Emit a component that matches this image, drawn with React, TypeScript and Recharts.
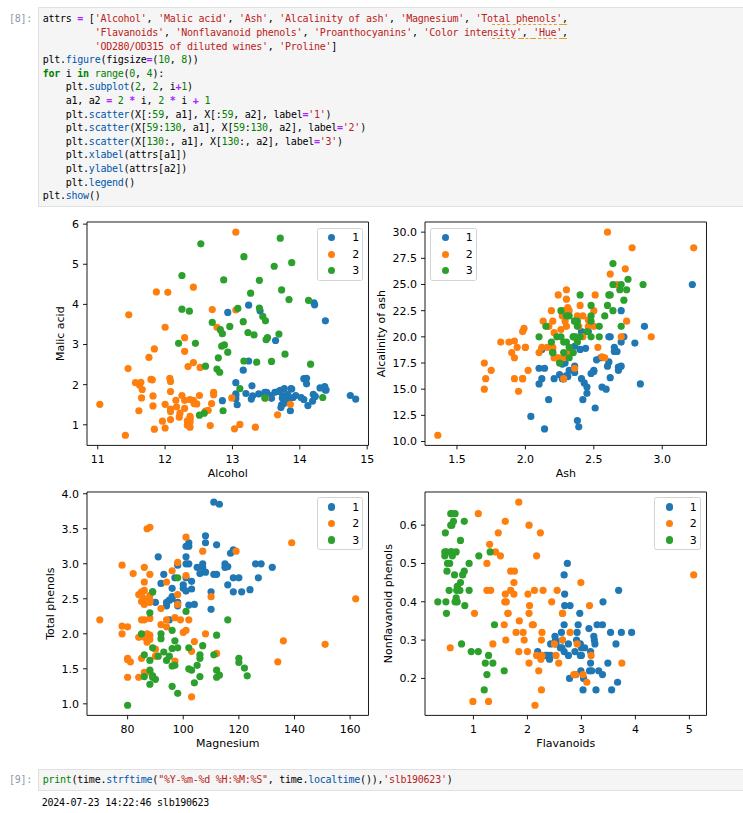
import React from 'react';
import { ScatterChart, Scatter, XAxis, YAxis, ReferenceArea } from 'recharts';

// wine data, 178 rows: rows 0..58 class 1, 59..129 class 2, 130..177 class 3
const alcohol = [
  14.23, 13.2, 13.16, 14.37, 13.24, 14.2, 14.39, 14.06, 14.83, 13.86, 14.1, 14.12, 13.75, 14.75, 14.38, 13.63, 14.3, 13.83, 14.19, 13.64,
  14.06, 12.93, 13.71, 12.85, 13.5, 13.05, 13.39, 13.3, 13.87, 14.02, 13.73, 13.58, 13.68, 13.76, 13.51, 13.48, 13.28, 13.05, 13.07, 14.22,
  13.56, 13.41, 13.88, 13.24, 13.05, 14.21, 14.38, 13.9, 14.1, 13.94, 13.05, 13.83, 13.82, 13.77, 13.74, 13.56, 14.22, 13.29, 13.72,
  12.37, 12.33, 12.64, 13.67, 12.37, 12.17, 12.37, 13.11, 12.37, 13.34, 12.21, 12.29, 13.86, 13.49, 12.99, 11.96, 11.66, 13.03, 11.84, 12.33,
  12.7, 12, 12.72, 12.08, 13.05, 11.84, 12.67, 12.16, 11.65, 11.64, 12.08, 12.08, 12, 12.69, 12.29, 11.62, 12.47, 11.81, 12.29, 12.37,
  12.29, 12.08, 12.6, 12.34, 11.82, 12.51, 12.42, 12.25, 12.72, 12.22, 11.61, 11.46, 12.52, 11.76, 11.41, 12.08, 11.03, 11.82, 12.42, 12.77,
  12, 11.45, 11.56, 12.42, 13.05, 11.87, 12.07, 12.43, 11.79, 12.37, 12.04,
  12.86, 12.88, 12.81, 12.7, 12.51, 12.6, 12.25, 12.53, 13.49, 12.84, 12.93, 13.36, 13.52, 13.62, 12.25, 13.16, 13.88, 12.87, 13.32, 13.08,
  13.5, 12.79, 13.11, 13.23, 12.58, 13.17, 13.84, 12.45, 14.34, 13.48, 12.36, 13.69, 12.85, 12.96, 13.78, 13.73, 13.45, 12.82, 13.58, 13.4,
  12.2, 12.77, 14.16, 13.71, 13.4, 13.27, 13.17, 14.13,
];
const malicAcid = [
  1.71, 1.78, 2.36, 1.95, 2.59, 1.76, 1.87, 2.15, 1.64, 1.35, 2.16, 1.48, 1.73, 1.73, 1.87, 1.81, 1.92, 1.57, 1.59, 3.1,
  1.63, 3.8, 1.86, 1.6, 1.81, 2.05, 1.77, 1.72, 1.9, 1.68, 1.5, 1.66, 1.83, 1.53, 1.8, 1.81, 1.64, 1.65, 1.5, 3.99,
  1.71, 3.84, 1.89, 3.98, 1.77, 4.04, 3.59, 1.68, 2.02, 1.73, 1.73, 1.65, 1.75, 1.9, 1.67, 1.73, 1.7, 1.97, 1.43,
  0.94, 1.1, 1.36, 1.25, 1.13, 1.45, 1.21, 1.01, 1.17, 0.94, 1.19, 1.61, 1.51, 1.66, 1.67, 1.09, 1.88, 0.9, 2.89, 0.99,
  3.87, 0.92, 1.81, 1.13, 3.86, 0.89, 0.98, 1.61, 1.67, 2.06, 1.33, 1.83, 1.51, 1.53, 2.83, 1.99, 1.52, 2.12, 1.41, 1.07,
  3.17, 2.08, 1.34, 2.45, 1.72, 1.73, 2.55, 1.73, 1.75, 1.29, 1.35, 3.74, 2.43, 2.68, 0.74, 1.39, 1.51, 1.47, 1.61, 3.43,
  3.43, 2.4, 2.05, 4.43, 5.8, 4.31, 2.16, 1.53, 2.13, 1.63, 4.3,
  1.35, 2.99, 2.31, 3.55, 1.24, 2.46, 4.72, 5.51, 3.59, 2.96, 2.81, 2.56, 3.17, 4.95, 3.88, 3.57, 5.04, 4.61, 3.24, 3.9,
  3.12, 2.67, 1.9, 3.3, 1.29, 5.19, 4.12, 3.03, 1.68, 1.67, 3.83, 3.26, 3.27, 3.45, 2.76, 4.36, 3.7, 3.37, 2.58, 4.6,
  3.03, 2.39, 2.51, 5.65, 3.91, 4.28, 2.59, 4.1,
];
const ash = [
  2.43, 2.14, 2.67, 2.5, 2.87, 2.45, 2.45, 2.61, 2.17, 2.27, 2.3, 2.32, 2.41, 2.39, 2.38, 2.7, 2.72, 2.62, 2.48, 2.56,
  2.28, 2.65, 2.36, 2.52, 2.61, 3.22, 2.62, 2.14, 2.8, 2.21, 2.7, 2.36, 2.36, 2.7, 2.65, 2.41, 2.84, 2.55, 2.1, 2.51,
  2.31, 2.12, 2.59, 2.29, 2.1, 2.44, 2.28, 2.12, 2.4, 2.27, 2.04, 2.6, 2.42, 2.68, 2.25, 2.46, 2.3, 2.68, 2.5,
  1.36, 2.28, 2.02, 1.92, 2.16, 2.53, 2.56, 1.7, 1.92, 2.36, 1.75, 2.21, 2.67, 2.24, 2.6, 2.3, 1.92, 1.71, 2.23, 1.95,
  2.4, 2, 2.2, 2.51, 2.32, 2.58, 2.24, 2.31, 2.62, 2.46, 2.3, 2.32, 2.42, 2.26, 2.22, 2.28, 2.2, 2.74, 1.98, 2.1,
  2.21, 1.7, 1.9, 2.46, 1.88, 1.98, 2.27, 2.12, 2.28, 1.94, 2.7, 1.82, 2.17, 2.92, 2.5, 2.5, 2.2, 1.99, 2.19, 1.98,
  2, 2.42, 3.23, 2.73, 2.13, 2.39, 2.17, 2.29, 2.78, 2.3, 2.38,
  2.32, 2.4, 2.4, 2.36, 2.25, 2.2, 2.54, 2.64, 2.19, 2.61, 2.7, 2.35, 2.72, 2.35, 2.2, 2.15, 2.23, 2.48, 2.38, 2.36,
  2.62, 2.48, 2.75, 2.28, 2.1, 2.32, 2.38, 2.64, 2.7, 2.64, 2.38, 2.54, 2.58, 2.35, 2.3, 2.26, 2.6, 2.3, 2.69, 2.86,
  2.32, 2.28, 2.48, 2.45, 2.48, 2.26, 2.37, 2.74,
];
const alcalinity = [
  15.6, 11.2, 18.6, 16.8, 21, 15.2, 14.6, 17.6, 14, 16, 18, 16.8, 16, 11.4, 12, 17.2, 20, 20, 16.5, 15.2,
  16, 18.6, 16.6, 17.8, 20, 25, 16.1, 17, 19.4, 16, 22.5, 19.1, 17.2, 19.5, 19, 20.5, 15.5, 18, 15.5, 13.2,
  16.2, 18.8, 15, 17.5, 17, 18.9, 16, 16, 18.8, 17.4, 12.4, 17.2, 14, 17.1, 16.4, 20.5, 16.3, 16.8, 16.7,
  10.6, 16, 16.8, 18, 19, 19, 18.1, 15, 19.6, 17, 16.8, 20.4, 25, 24, 30, 21, 16, 16, 18, 14.8,
  23, 19, 18.8, 24, 22.5, 18, 18, 22.8, 26, 21.6, 23.6, 18.5, 22, 20.7, 18, 18, 19, 21.5, 16, 18.5,
  18, 17.5, 18.5, 21, 19.5, 20.5, 22, 19, 22.5, 19, 20, 19.5, 21, 20, 21, 22.5, 21.5, 20.8, 22.5, 16,
  19, 20, 28.5, 26.5, 21.5, 21, 21, 21.5, 28.5, 24.5, 22,
  18, 20, 24, 21.5, 17.5, 18.5, 21, 25, 19.5, 24, 21, 20, 23.5, 20, 18.5, 21, 20, 21.5, 21.5, 21.5,
  24, 22, 25.5, 18.5, 20, 22, 19.5, 27, 25, 22.5, 21, 20, 22, 18.5, 22, 22.5, 23, 19.5, 24.5, 25,
  19, 19.5, 20, 20.5, 23, 20, 20, 24.5,
];
const magnesium = [
  127, 100, 101, 113, 118, 112, 96, 121, 97, 98, 105, 95, 89, 91, 102, 112, 120, 115, 108, 116,
  126, 102, 101, 95, 96, 124, 93, 94, 107, 96, 101, 106, 104, 132, 110, 100, 110, 98, 98, 128,
  117, 90, 101, 103, 107, 111, 102, 101, 103, 108, 92, 94, 111, 115, 118, 116, 118, 102, 108,
  88, 101, 100, 94, 87, 104, 98, 78, 78, 110, 151, 103, 86, 87, 139, 101, 97, 86, 112, 136,
  101, 86, 86, 78, 85, 94, 99, 90, 88, 84, 70, 81, 86, 80, 88, 98, 162, 134, 85, 88,
  88, 97, 88, 98, 86, 85, 90, 80, 84, 92, 94, 107, 88, 103, 88, 84, 85, 86, 108, 80,
  87, 96, 119, 102, 86, 82, 85, 86, 92, 88, 80,
  122, 104, 98, 106, 85, 94, 89, 96, 88, 101, 96, 89, 97, 92, 112, 102, 80, 86, 92, 113,
  123, 112, 116, 98, 103, 93, 89, 97, 98, 89, 88, 107, 106, 106, 90, 88, 111, 88, 105, 112,
  96, 86, 91, 95, 102, 120, 120, 96,
];
const totalPhenols = [
  2.8, 2.65, 2.8, 3.85, 2.8, 3.27, 2.5, 2.6, 2.8, 2.98, 2.95, 2.2, 2.6, 3.1, 3.3, 2.85, 2.8, 2.95, 3.3, 2.7,
  3, 2.41, 2.61, 2.48, 2.53, 2.63, 2.85, 2.4, 2.95, 2.65, 3, 2.86, 2.42, 2.95, 2.35, 2.7, 2.6, 2.45, 2.4, 3,
  3.15, 2.45, 3.25, 2.64, 3, 2.85, 3.25, 3.1, 2.75, 2.88, 2.72, 2.45, 3.88, 3, 2.6, 2.96, 3.2, 3, 3.4,
  1.98, 2.05, 2.02, 2.1, 3.5, 1.89, 2.42, 2.98, 2.11, 2.53, 1.85, 1.1, 2.95, 1.88, 3.3, 3.38, 1.61, 1.95, 1.72, 1.9,
  2.83, 2.42, 2.2, 2, 1.65, 2.2, 2.2, 1.78, 1.92, 1.95, 2.2, 1.6, 1.45, 1.38, 2.45, 3.02, 2.5, 1.6, 2.55, 3.52,
  2.85, 2.23, 1.45, 2.56, 2.5, 2.2, 1.68, 1.65, 1.38, 2.36, 2.74, 3.18, 2.55, 1.75, 2.48, 2.56, 2.46, 1.98, 2, 1.63,
  2, 2.9, 3.18, 2.2, 2.62, 2.86, 2.6, 2.74, 2.13, 2.22, 2.1,
  1.51, 1.3, 1.15, 1.7, 2, 1.62, 1.38, 1.79, 1.62, 2.32, 1.54, 1.4, 1.55, 2, 1.38, 1.5, 0.98, 1.7, 1.93, 1.41,
  1.4, 1.48, 2.2, 1.8, 1.48, 1.74, 1.8, 1.9, 2.8, 2.6, 2.3, 1.83, 1.65, 1.39, 1.35, 1.28, 1.7, 1.48, 1.55, 1.98,
  1.25, 1.39, 1.68, 1.68, 1.8, 1.59, 1.65, 2.05,
];
const flavanoids = [
  3.06, 2.76, 3.24, 3.49, 2.69, 3.39, 2.52, 2.51, 2.98, 3.15, 3.32, 2.43, 2.76, 3.69, 3.64, 2.91, 3.14, 3.4, 3.93, 3.03,
  3.17, 2.41, 2.88, 2.37, 2.61, 2.68, 2.94, 2.19, 2.97, 2.33, 3.25, 3.19, 2.69, 2.74, 2.53, 2.98, 2.68, 2.43, 2.64, 3.04,
  3.29, 2.68, 3.56, 2.63, 3, 2.65, 3.17, 3.39, 2.92, 3.54, 3.27, 2.99, 3.74, 2.79, 2.9, 2.78, 3, 3.23, 3.67,
  0.57, 1.09, 1.41, 1.79, 3.1, 1.75, 2.65, 3.18, 2, 1.3, 1.28, 1.02, 2.86, 1.84, 2.89, 2.14, 1.57, 2.03, 1.32, 1.85,
  2.55, 2.26, 2.53, 1.58, 1.59, 2.21, 1.94, 1.69, 1.61, 1.69, 1.59, 1.5, 1.25, 1.46, 2.25, 2.26, 2.27, 0.99, 2.5, 3.75,
  2.99, 2.17, 1.36, 2.11, 1.64, 1.92, 1.84, 2.03, 1.76, 2.04, 2.92, 2.58, 2.27, 2.03, 2.01, 2.29, 2.17, 1.6, 2.09, 1.25,
  1.64, 2.79, 5.08, 2.13, 2.65, 3.03, 2.65, 3.15, 2.24, 2.45, 1.75,
  1.25, 1.22, 1.09, 1.2, 0.58, 0.66, 0.47, 0.6, 0.48, 0.6, 0.5, 0.5, 0.52, 0.8, 0.78, 0.55, 0.34, 0.65, 0.76, 1.39,
  1.57, 1.36, 1.28, 0.83, 0.58, 0.63, 0.83, 0.58, 1.31, 1.1, 0.92, 0.56, 0.6, 0.7, 0.68, 0.47, 0.92, 0.66, 0.84, 0.96,
  0.49, 0.51, 0.7, 0.61, 0.75, 0.69, 0.68, 0.76,
];
const nonflavanoid = [
  0.28, 0.26, 0.3, 0.24, 0.39, 0.34, 0.3, 0.31, 0.29, 0.22, 0.22, 0.26, 0.29, 0.43, 0.29, 0.3, 0.33, 0.4, 0.32, 0.17,
  0.24, 0.25, 0.27, 0.26, 0.28, 0.47, 0.34, 0.27, 0.37, 0.26, 0.29, 0.22, 0.42, 0.5, 0.29, 0.26, 0.34, 0.29, 0.28, 0.2,
  0.34, 0.27, 0.17, 0.32, 0.28, 0.3, 0.27, 0.21, 0.32, 0.32, 0.17, 0.22, 0.32, 0.39, 0.21, 0.2, 0.26, 0.31, 0.19,
  0.28, 0.63, 0.53, 0.32, 0.19, 0.45, 0.37, 0.26, 0.27, 0.55, 0.14, 0.37, 0.21, 0.27, 0.21, 0.13, 0.34, 0.24, 0.43, 0.35,
  0.43, 0.3, 0.26, 0.4, 0.61, 0.22, 0.3, 0.43, 0.4, 0.48, 0.42, 0.52, 0.5, 0.58, 0.25, 0.17, 0.32, 0.14, 0.29, 0.24,
  0.45, 0.26, 0.29, 0.34, 0.37, 0.32, 0.66, 0.37, 0.48, 0.39, 0.29, 0.24, 0.26, 0.6, 0.42, 0.43, 0.52, 0.3, 0.34, 0.43,
  0.37, 0.32, 0.47, 0.43, 0.3, 0.21, 0.37, 0.39, 0.58, 0.4, 0.42,
  0.21, 0.24, 0.27, 0.17, 0.6, 0.63, 0.53, 0.63, 0.58, 0.53, 0.53, 0.37, 0.5, 0.47, 0.29, 0.43, 0.4, 0.47, 0.45, 0.34,
  0.22, 0.24, 0.26, 0.61, 0.53, 0.61, 0.48, 0.63, 0.53, 0.52, 0.5, 0.5, 0.6, 0.4, 0.41, 0.52, 0.43, 0.4, 0.39, 0.27,
  0.4, 0.48, 0.44, 0.52, 0.43, 0.43, 0.53, 0.56,
];

// X[:59], X[59:130], X[130:]
const classes = [
  { name: '1', start: 0, end: 59, color: '#1f77b4' },
  { name: '2', start: 59, end: 130, color: '#ff7f0e' },
  { name: '3', start: 130, end: 178, color: '#2ca02c' },
];

const alcoholTicks = [11, 12, 13, 14, 15];
const malicTicks = [1, 2, 3, 4, 5, 6];
const ashTicks = [1.5, 2.0, 2.5, 3.0];
const alcalinityTicks = [10, 12.5, 15, 17.5, 20, 22.5, 25, 27.5, 30];
const magnesiumTicks = [80, 100, 120, 140, 160];
const phenolsTicks = [1, 1.5, 2, 2.5, 3, 3.5, 4];
const flavanoidTicks = [1, 2, 3, 4, 5];
const nonflavTicks = [0.2, 0.3, 0.4, 0.5, 0.6];

const FONT = 'DejaVu Sans, sans-serif';
const MONO = '"DejaVu Sans Mono", "Liberation Mono", monospace';
const PLOT_W = 281.5;
const PLOT_H = 223.4;

// matplotlib autoscale: 5% margin each side
const pad = (v: number[]): [number, number] => {
  const lo = Math.min(...v);
  const hi = Math.max(...v);
  const m = (hi - lo) * 0.05;
  return [lo - m, hi + m];
};
const fixed1 = (v: number) => v.toFixed(1);

type PanelProps = {
  x: number[];
  y: number[];
  xLabel: string;
  yLabel: string;
  xTicks: number[];
  yTicks: number[];
  xFmt?: (v: number) => string;
  yFmt?: (v: number) => string;
  left: number;
  top: number;
  yLabelGap: number;
  legendLeft?: boolean;
};

function PlotLegend({ left, top }: { left: number; top: number }) {
  return (
    <div
      style={{
        position: 'absolute',
        left,
        top,
        width: 46.6,
        height: 52.8,
        boxSizing: 'border-box',
        border: '1px solid #d3d3d3',
        borderRadius: 2.5,
        background: 'rgba(255,255,255,0.8)',
      }}
    >
      {classes.map((c, i) => (
        <div key={c.name}>
          <div
            style={{
              position: 'absolute',
              left: 10.6,
              top: 9.9 + i * 16.5 - 4.6,
              width: 7.2,
              height: 7.2,
              borderRadius: '50%',
              background: c.color,
            }}
          />
          <div
            style={{
              position: 'absolute',
              left: 34.5,
              top: 9.9 + i * 16.5 - 7.5,
              fontFamily: FONT,
              fontSize: 11,
              lineHeight: '13px',
              color: '#000',
            }}
          >
            {c.name}
          </div>
        </div>
      ))}
    </div>
  );
}

function Panel(p: PanelProps) {
  const xDomain = pad(p.x);
  const yDomain = pad(p.y);
  const tick = { fill: '#000', fontSize: 11, fontFamily: FONT };
  const tickLine = { stroke: '#000', strokeWidth: 0.9 };
  return (
    <div style={{ position: 'absolute', left: p.left - 60, top: p.top - 10 }}>
      <ScatterChart width={PLOT_W + 70} height={PLOT_H + 55} margin={{ top: 10, right: 10, bottom: 0, left: 0 }}>
        <XAxis
          type="number"
          dataKey="x"
          domain={xDomain}
          ticks={p.xTicks}
          allowDataOverflow
          tickFormatter={p.xFmt}
          axisLine={false}
          tickSize={4}
          tickMargin={5.5}
          tickLine={tickLine}
          tick={tick}
          height={45}
          label={{ value: p.xLabel, position: 'insideBottom', offset: 13, fill: '#000', fontSize: 11, fontFamily: FONT }}
        />
        <YAxis
          type="number"
          dataKey="y"
          domain={yDomain}
          ticks={p.yTicks}
          allowDataOverflow
          tickFormatter={p.yFmt}
          axisLine={false}
          tickSize={4}
          tickMargin={4}
          tickLine={tickLine}
          tick={tick}
          width={60}
          label={{
            value: p.yLabel,
            angle: -90,
            position: 'insideLeft',
            offset: 60 - p.yLabelGap,
            fill: '#000',
            fontSize: 11,
            fontFamily: FONT,
            style: { textAnchor: 'middle' },
          }}
        />
        {classes.map((c) => (
          <Scatter
            key={c.name}
            name={c.name}
            data={p.x.slice(c.start, c.end).map((v, i) => ({ x: v, y: p.y[c.start + i] }))}
            fill={c.color}
            isAnimationActive={false}
            shape={(s: any) => <circle cx={s.cx} cy={s.cy} r={3.6} fill={c.color} />}
          />
        ))}
        <ReferenceArea
          x1={xDomain[0]}
          x2={xDomain[1]}
          y1={yDomain[0]}
          y2={yDomain[1]}
          fill="none"
          stroke="#000"
          strokeWidth={0.9}
          ifOverflow="visible"
        />
      </ScatterChart>
      <PlotLegend left={p.legendLeft ? 60 + 5.5 : 60 + PLOT_W - 5.5 - 46.6} top={10 + 5.5} />
    </div>
  );
}

type Tok = [string, string, number?];
const TOK_STYLE: Record<string, React.CSSProperties> = {
  '': { color: '#000' },
  k: { color: '#008000', fontWeight: 'bold' },
  o: { color: '#aa22ff', fontWeight: 'bold' },
  s: { color: '#ba2121' },
  n: { color: '#008000' },
  b: { color: '#008000' },
  p: { color: '#0055aa' },
};

const codeLines: Tok[][] = [
  [['attrs ', ''], ['=', 'o'], [' [', ''], ["'Alcohol'", 's'], [', ', ''], ["'Malic acid'", 's'], [', ', ''], ["'Ash'", 's'], [', ', ''],
    ["'Alcalinity of ash'", 's'], [', ', ''], ["'Magnesium'", 's'], [', ', ''], ["'To", 's'], ["tal phenols'", 's', 1], [',', '', 1]],
  [['         ', ''], ["'Flavanoids'", 's'], [', ', ''], ["'Nonflavanoid phenols'", 's'], [', ', ''], ["'Proanthocyanins'", 's'], [', ', ''],
    ["'Color inten", 's'], ["sity'", 's', 1], [', ', '', 1], ["'Hue'", 's', 1], [',', '', 1]],
  [['         ', ''], ["'OD280/OD315 of diluted wines'", 's'], [', ', ''], ["'Proline'", 's'], [']', '']],
  [['plt.', ''], ['figure', 'p'], ['(figsize', ''], ['=', 'o'], ['(', ''], ['10', 'n'], [', ', ''], ['8', 'n'], ['))', '']],
  [['for', 'k'], [' i ', ''], ['in', 'k'], [' ', ''], ['range', 'b'], ['(', ''], ['0', 'n'], [', ', ''], ['4', 'n'], ['):', '']],
  [['    plt.', ''], ['subplot', 'p'], ['(', ''], ['2', 'n'], [', ', ''], ['2', 'n'], [', i', ''], ['+', 'o'], ['1', 'n'], [')', '']],
  [['    a1, a2 ', ''], ['=', 'o'], [' ', ''], ['2', 'n'], [' ', ''], ['*', 'o'], [' i, ', ''], ['2', 'n'], [' ', ''], ['*', 'o'], [' i ', ''],
    ['+', 'o'], [' ', ''], ['1', 'n']],
  [['    plt.', ''], ['scatter', 'p'], ['(X[:', ''], ['59', 'n'], [', a1], X[:', ''], ['59', 'n'], [', a2], label', ''], ['=', 'o'], ["'1'", 's'], [')', '']],
  [['    plt.', ''], ['scatter', 'p'], ['(X[', ''], ['59', 'n'], [':', ''], ['130', 'n'], [', a1], X[', ''], ['59', 'n'], [':', ''], ['130', 'n'],
    [', a2], label', ''], ['=', 'o'], ["'2'", 's'], [')', '']],
  [['    plt.', ''], ['scatter', 'p'], ['(X[', ''], ['130', 'n'], [':, a1], X[', ''], ['130', 'n'], [':, a2], label', ''], ['=', 'o'], ["'3'", 's'], [')', '']],
  [['    plt.', ''], ['xlabel', 'p'], ['(attrs[a1])', '']],
  [['    plt.', ''], ['ylabel', 'p'], ['(attrs[a2])', '']],
  [['    plt.', ''], ['legend', 'p'], ['()', '']],
  [['plt.', ''], ['show', 'p'], ['()', '']],
];

const timeLine: Tok[] = [
  ['print', 'b'], ['(time.', ''], ['strftime', 'p'], ['(', ''], ['"%Y-%m-%d %H:%M:%S"', 's'], [', time.', ''], ['localtime', 'p'],
  ['()),', ''], ["'slb190623'", 's'], [')', ''],
];

const monoText: React.CSSProperties = {
  fontFamily: MONO,
  fontSize: 10,
  letterSpacing: -0.25,
  whiteSpace: 'pre',
  lineHeight: '13.6px',
};

function CodeLine({ toks }: { toks: Tok[] }) {
  return (
    <div style={{ height: 13.6 }}>
      {toks.map(([t, k, u], i) => (
        <span
          key={i}
          style={{
            ...TOK_STYLE[k],
            textDecoration: u ? 'underline dashed #e89a2c' : undefined,
            textUnderlineOffset: 2,
          }}
        >
          {t}
        </span>
      ))}
    </div>
  );
}

function Prompt({ n, top }: { n: number; top: number }) {
  return (
    <div style={{ ...monoText, position: 'absolute', left: 9, top, width: 23, textAlign: 'right', color: '#8c98a6' }}>
      [{n}]:
    </div>
  );
}

export default function App() {
  return (
    <div
      style={{
        position: 'absolute',
        left: 0,
        top: 0,
        width: 743,
        height: 813,
        overflow: 'hidden',
        background: '#fff',
      }}
    >
      <Prompt n={8} top={12.2} />
      <div
        style={{
          position: 'absolute',
          left: 38.3,
          top: 7.3,
          width: 720,
          height: 200,
          boxSizing: 'border-box',
          background: '#f5f5f5',
          border: '1px solid #e0e0e0',
          padding: '4.2px 0 0 3.4px',
          ...monoText,
        }}
      >
        {codeLines.map((l, i) => (
          <CodeLine key={i} toks={l} />
        ))}
      </div>

      <Panel x={alcohol} y={malicAcid} xLabel="Alcohol" yLabel="Malic acid" xTicks={alcoholTicks} yTicks={malicTicks}
        left={87.3} top={222.3} yLabelGap={26.6} />
      <Panel x={ash} y={alcalinity} xLabel="Ash" yLabel="Alcalinity of ash" xTicks={ashTicks} yTicks={alcalinityTicks}
        xFmt={fixed1} yFmt={fixed1} left={424.8} top={222.3} yLabelGap={44} legendLeft />
      <Panel x={magnesium} y={totalPhenols} xLabel="Magnesium" yLabel="Total phenols" xTicks={magnesiumTicks} yTicks={phenolsTicks}
        yFmt={fixed1} left={87.3} top={491.7} yLabelGap={37.3} />
      <Panel x={flavanoids} y={nonflavanoid} xLabel="Flavanoids" yLabel="Nonflavanoid phenols" xTicks={flavanoidTicks} yTicks={nonflavTicks}
        yFmt={fixed1} left={424.8} top={491.7} yLabelGap={36.7} />

      <Prompt n={9} top={773.2} />
      <div
        style={{
          position: 'absolute',
          left: 38.3,
          top: 769,
          width: 720,
          height: 22,
          boxSizing: 'border-box',
          background: '#f5f5f5',
          border: '1px solid #e0e0e0',
          padding: '3.2px 0 0 3.4px',
          ...monoText,
        }}
      >
        <CodeLine toks={timeLine} />
      </div>
      <div style={{ ...monoText, position: 'absolute', left: 41.7, top: 796, color: '#000' }}>2024-07-23 14:22:46 slb190623</div>
    </div>
  );
}
